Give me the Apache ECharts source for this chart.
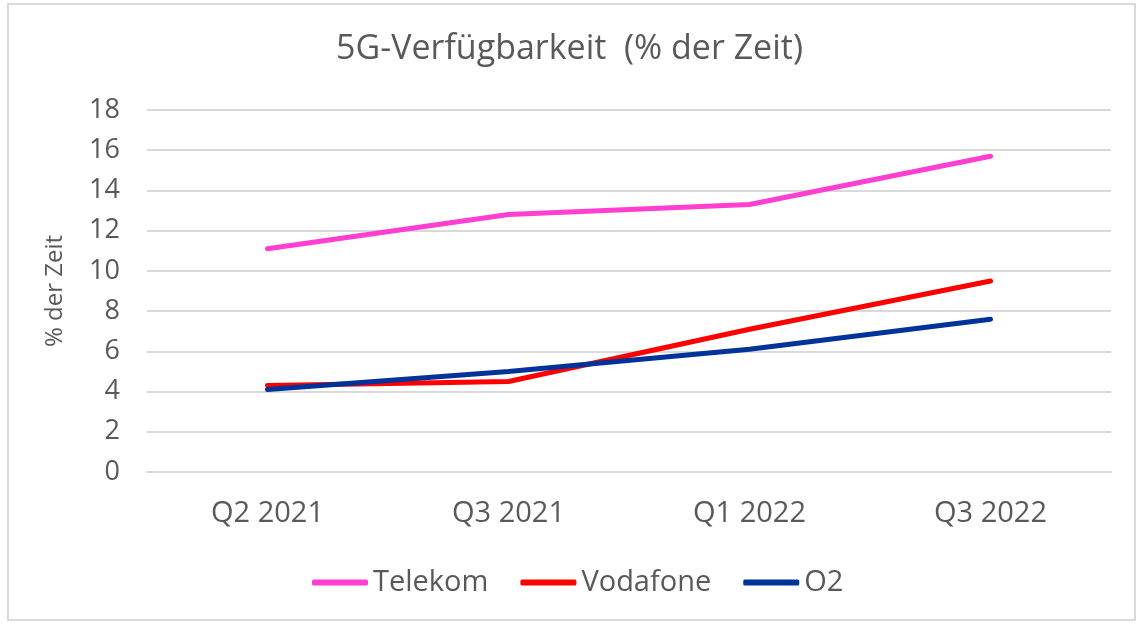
<!DOCTYPE html>
<html>
<head>
<meta charset="utf-8">
<script src="https://cdn.jsdelivr.net/npm/echarts@6/dist/echarts.min.js"></script>
<style>
  html, body { margin: 0; padding: 0; background: #fff; }
  #chart { width: 1139px; height: 624px; }
</style>
</head>
<body>
<div id="chart"></div>
<script>
// Daten
const quarters = ['Q2 2021', 'Q3 2021', 'Q1 2022', 'Q3 2022']
const telekom = [11.1, 12.8, 13.3, 15.7]
const vodafone = [4.3, 4.5, 7.1, 9.5]
const o2 = [4.1, 5.0, 6.1, 7.6]

const textColor = '#595959'
const fontFamily = '"Open Sans", Lato, sans-serif'

const chart = echarts.init(document.getElementById('chart'))

function lineSeries (name, data, color) {
  return {
    name: name,
    type: 'line',
    data: data,
    symbol: 'none',
    lineStyle: { width: 5, color: color, cap: 'round' },
    itemStyle: { color: color }
  }
}

chart.setOption({
  animation: false,
  textStyle: { fontFamily: fontFamily },
  graphic: [{
    type: 'rect',
    shape: { x: 8, y: 4, width: 1127, height: 616 },
    style: { fill: 'none', stroke: '#d9d9d9', lineWidth: 2 }
  }],
  title: {
    text: '5G-Verfügbarkeit  (% der Zeit)',
    left: 'center',
    top: 27,
    textStyle: { fontSize: 34, fontWeight: 'normal', color: textColor, fontFamily: fontFamily }
  },
  legend: {
    top: 563,
    left: 307,
    icon: 'roundRect',
    itemWidth: 56,
    itemHeight: 6,
    itemGap: 32,
    textStyle: { fontSize: 29, color: textColor },
    data: ['Telekom', 'Vodafone', 'O2']
  },
  grid: {
    left: 147,
    right: 28,
    top: 110,
    bottom: 152
  },
  xAxis: {
    type: 'category',
    data: quarters,
    boundaryGap: true,
    axisLine: { lineStyle: { color: '#d9d9d9', width: 2 } },
    axisTick: { show: false },
    axisLabel: { fontSize: 29, color: textColor, margin: 27 }
  },
  yAxis: {
    type: 'value',
    min: 0,
    max: 18,
    interval: 2,
    name: '% der Zeit',
    nameLocation: 'middle',
    nameGap: 80,
    nameRotate: 90,
    nameTextStyle: { fontSize: 24, color: textColor },
    axisLine: { show: false },
    axisTick: { show: false },
    axisLabel: { fontSize: 27, color: textColor, margin: 27 },
    splitLine: { lineStyle: { color: '#d9d9d9', width: 2 } }
  },
  series: [
    lineSeries('Telekom', telekom, '#ff3fd2'),
    lineSeries('Vodafone', vodafone, '#ff0000'),
    lineSeries('O2', o2, '#003399')
  ]
})
</script>
</body>
</html>
